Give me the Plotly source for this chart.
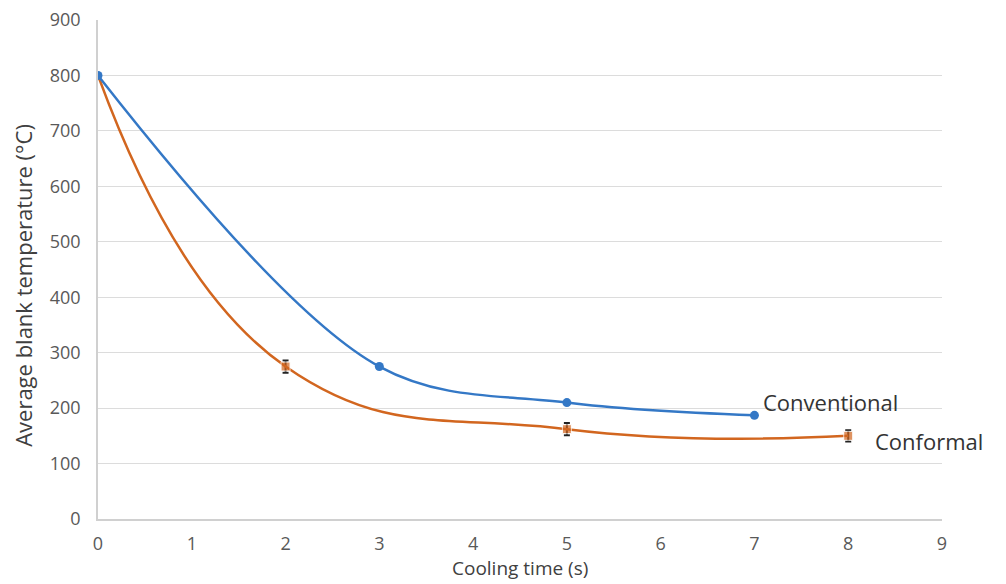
import plotly.graph_objects as go

# Data
conv_time = [0, 3, 5, 7]
conv_temp = [800, 275, 210, 187]
conv_err = [0, 4, 4, 0]

conf_time = [0, 2, 5, 8]
conf_temp = [800, 275, 162, 150]
conf_err = [0, 11, 11, 10]

x_ticks = [0, 1, 2, 3, 4, 5, 6, 7, 8, 9]
y_ticks = [0, 100, 200, 300, 400, 500, 600, 700, 800, 900]

BLUE = "#3478C6"
ORANGE = "#D2661F"
FONT = "Open Sans"
TXT = "#595959"

# first conformal point is hidden beneath the conventional marker
conf_sizes = [0] + [9] * (len(conf_time) - 1)

fig = go.Figure()
fig.add_trace(go.Scatter(
    x=conf_time, y=conf_temp, mode="lines+markers", name="Conformal",
    line=dict(color=ORANGE, width=2.5, shape="spline", smoothing=1.3),
    marker=dict(symbol="square", size=conf_sizes, color=ORANGE),
    error_y=dict(type="data", array=conf_err, color="#222222", thickness=2, width=3),
))
fig.add_trace(go.Scatter(
    x=conv_time, y=conv_temp, mode="lines+markers", name="Conventional",
    line=dict(color=BLUE, width=2.5, shape="spline", smoothing=1.0),
    marker=dict(symbol="circle", size=9, color=BLUE),
    error_y=dict(type="data", array=conv_err, color="#B03030", thickness=1.5, width=2),
))

fig.add_annotation(x=conv_time[-1], y=conv_temp[-1], text="Conventional",
                   xref="x", yref="y", showarrow=False, xanchor="left", yanchor="middle",
                   xshift=7, yshift=13, font=dict(family=FONT, size=22, color="#333333"))
fig.add_annotation(x=conf_time[-1], y=conf_temp[-1], text="Conformal",
                   xref="x", yref="y", showarrow=False, xanchor="left", yanchor="middle",
                   xshift=25, yshift=-5, font=dict(family=FONT, size=22, color="#333333"))

# axis titles
fig.add_annotation(x=-0.089, y=0.469, xref="paper", yref="paper", text="Average blank temperature (°C)",
                   showarrow=False, textangle=-90, xanchor="center", yanchor="middle",
                   font=dict(family=FONT, size=22, color="#404040"))
fig.add_annotation(x=0.5, y=-0.098, xref="paper", yref="paper", text="Cooling time (s)",
                   showarrow=False, xanchor="center", yanchor="middle",
                   font=dict(family=FONT, size=19, color="#404040"))

# page body has an 8px default margin; compensate so the plot area lands where the reference has it
fig.update_layout(
    width=998, height=576,
    margin=dict(l=90, r=64, t=12, b=65),
    paper_bgcolor="white", plot_bgcolor="white",
    showlegend=False,
    font=dict(family=FONT, color=TXT),
)
fig.update_xaxes(
    range=[0, 9], tickvals=x_ticks, ticktext=[str(v) for v in x_ticks],
    showgrid=False, zeroline=False, showline=True, linecolor="#d0d0d0", linewidth=1.5,
    ticks="", tickfont=dict(family=FONT, size=18, color=TXT), ticklabelstandoff=8,
    ticklabeloverflow="allow", automargin=False,
)
fig.update_yaxes(
    range=[0, 900], tickvals=y_ticks, ticktext=[str(v) for v in y_ticks],
    showgrid=True, gridcolor="#dcdcdc", gridwidth=1.2, zeroline=False,
    showline=True, linecolor="#d0d0d0", linewidth=1.5,
    ticks="", tickfont=dict(family=FONT, size=18, color=TXT), ticklabelstandoff=12,
    ticklabeloverflow="allow", automargin=False,
)

fig.write_html("out.html")
